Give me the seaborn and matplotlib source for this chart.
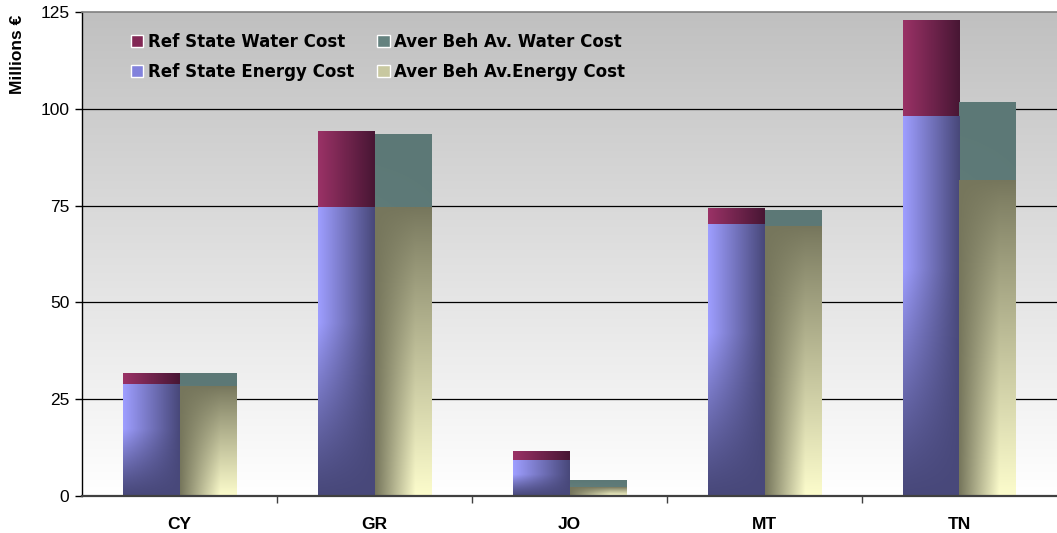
import numpy as np
import pandas as pd
import matplotlib
matplotlib.use("Agg")
import matplotlib.pyplot as plt
import seaborn as sns
from matplotlib.patches import Patch

# --- data (millions of euros) ---
countries = ["CY", "GR", "JO", "MT", "TN"]
scenarios = ["Ref State", "Aver Beh Av."]
ref_energy = [28.7, 74.5, 9.1, 70.1, 98.1]
ref_water = [2.9, 19.7, 2.3, 4.2, 24.6]
aver_energy = [28.2, 74.5, 2.1, 69.6, 81.5]
aver_water = [3.4, 18.9, 2.0, 4.2, 20.2]
y_ticks = [0, 25, 50, 75, 100, 125]

rows = []
for i, c in enumerate(countries):
    rows.append(dict(country=c, scenario=scenarios[0], energy=ref_energy[i], water=ref_water[i]))
    rows.append(dict(country=c, scenario=scenarios[1], energy=aver_energy[i], water=aver_water[i]))
df = pd.DataFrame(rows)
df["total"] = df["energy"] + df["water"]

sns.set_theme(style="white")
plt.rcParams["font.family"] = ["Liberation Sans", "DejaVu Sans"]
for key in ["text.color", "axes.labelcolor", "xtick.color", "ytick.color"]:
    plt.rcParams[key] = "black"

fig = plt.figure(figsize=(10.57, 5.33), dpi=100)
ax = fig.add_axes([82 / 1057, 37 / 533, 975 / 1057, 484 / 533])


def rgb(*c):
    return np.array(c, dtype=float) / 255.0


# gradient fills: u = 0..1 left->right, v = 0..1 bottom->top
def grad_ref_water(u, v):
    t = np.clip(u, 0, 1)[..., None]
    return rgb(154, 50, 102) * (1 - t) + rgb(72, 22, 52) * t


def grad_ref_energy(u, v):
    light = (1 - u) * np.clip(v / 0.6, 0, 1) ** 1.2
    t = np.clip(light, 0, 1)[..., None]
    return rgb(72, 72, 122) * (1 - t) + rgb(158, 158, 255) * t


def grad_aver_water(u, v):
    t = np.clip(0.6 * (1 - v) * (1 - 0.5 * u), 0, 1)[..., None]
    return rgb(92, 120, 118) * (1 - t) + rgb(112, 140, 136) * t


def grad_aver_energy(u, v):
    t = (np.clip(1.4 * u, 0, 1) * (1 - v) ** 0.9)[..., None]
    return rgb(118, 118, 92) * (1 - t) + rgb(252, 252, 204) * t


water_pal = ["#822855", "#64827f"]
energy_pal = ["#8282dc", "#c8c8a0"]
water_grads = {0: grad_ref_water, 1: grad_aver_water}
energy_grads = {0: grad_ref_energy, 1: grad_aver_energy}


def shade_new_bars(start, palette, grads, z):
    pal = [matplotlib.colors.to_rgb(c) for c in palette]
    for p in ax.patches[start:]:
        fc = p.get_facecolor()[:3]
        k = int(np.argmin([np.sum((np.array(fc) - np.array(c)) ** 2) for c in pal]))
        p.set_zorder(z)
        p.set_linewidth(0)
        x0, y0, w, h = p.get_x(), p.get_y(), p.get_width(), p.get_height()
        if h <= 0:
            continue
        uu, vv = np.meshgrid(np.linspace(0, 1, 60), np.linspace(0, 1, 200))
        img = grads[k](uu, vv)
        ax.imshow(img, extent=[x0, x0 + w, y0, y0 + h], origin="lower",
                  aspect="auto", zorder=z + 0.1, interpolation="bilinear")


n0 = len(ax.patches)
sns.barplot(data=df, x="country", y="total", hue="scenario", hue_order=scenarios,
            order=countries, palette=water_pal, width=0.58, saturation=1,
            errorbar=None, legend=False, linewidth=0, ax=ax)
shade_new_bars(n0, water_pal, water_grads, 3)

n1 = len(ax.patches)
sns.barplot(data=df, x="country", y="energy", hue="scenario", hue_order=scenarios,
            order=countries, palette=energy_pal, width=0.58, saturation=1,
            errorbar=None, legend=False, linewidth=0, ax=ax)
shade_new_bars(n1, energy_pal, energy_grads, 4)

# background: grey at top fading to white
bg = np.linspace(1.0, 192 / 255, 256)[:, None, None] * np.ones((1, 2, 3))
ax.imshow(bg, extent=[0, 1, 0, 1], transform=ax.transAxes, origin="lower",
          aspect="auto", zorder=0, interpolation="bilinear")
ax.set_xlim(-0.5, len(countries) - 0.5)
ax.set_ylim(0, 125)

for yv in y_ticks[1:-1]:
    ax.axhline(yv, color="black", lw=0.9, zorder=1)

ax.set_yticks(y_ticks)
ax.set_yticklabels([str(t) for t in y_ticks], fontsize=12.5)
ax.tick_params(axis="y", which="major", left=True, length=5, width=1,
               color="black", pad=4)
ax.set_xticks(range(len(countries)))
ax.set_xticklabels(countries, fontsize=12.5, fontweight="bold")
ax.tick_params(axis="x", which="major", bottom=False, pad=9)
ax.set_xticks(np.arange(0.5, len(countries) - 0.5, 1), minor=True)
ax.tick_params(axis="x", which="minor", bottom=True, length=5, width=1, color="#404040")
ax.set_xlabel("")
ax.set_ylabel("")

ax.spines["left"].set_color("black")
ax.spines["left"].set_linewidth(1)
ax.spines["bottom"].set_color("#404040")
ax.spines["bottom"].set_linewidth(1.6)
ax.spines["top"].set_color("#808080")
ax.spines["top"].set_linewidth(1.2)
ax.spines["right"].set_visible(False)
for s in ax.spines.values():
    s.set_zorder(5)

fig.text(0.017, 0.972, "Millions €", rotation=90, va="top", ha="center",
         fontsize=12.5, fontweight="bold")

handles = [Patch(facecolor=water_pal[0]), Patch(facecolor=energy_pal[0]),
           Patch(facecolor=water_pal[1]), Patch(facecolor=energy_pal[1])]
labels = ["Ref State Water Cost", "Ref State Energy Cost",
          "Aver Beh Av. Water Cost", "Aver Beh Av.Energy Cost"]
leg = ax.legend(handles, labels, ncol=2, loc="upper left",
                bbox_to_anchor=(0.05, 0.957), frameon=False, borderpad=0,
                borderaxespad=0, handlelength=0.75, handleheight=0.75,
                handletextpad=0.3, columnspacing=1.35, labelspacing=0.72,
                prop={"family": "DejaVu Sans", "weight": "bold", "size": 12})
leg.set_zorder(6)

fig.savefig("out.png", dpi=100)
